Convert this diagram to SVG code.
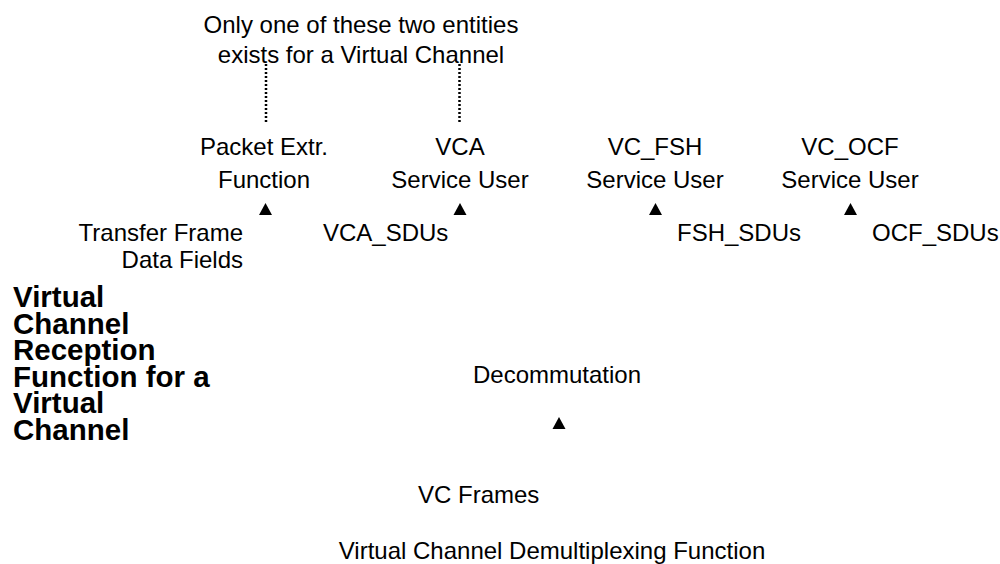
<svg xmlns="http://www.w3.org/2000/svg" width="1000" height="564" viewBox="0 0 1000 564">
<style>
text{font-family:"Liberation Sans",Arial,sans-serif;font-size:24px;fill:#000}
.c{text-anchor:middle}
.r{text-anchor:end}
.b{font-weight:bold;font-size:29.5px}
.dot{stroke:#000;stroke-width:2.5;stroke-dasharray:2 2;fill:none}
.tri{fill:#000}
</style>
<rect width="1000" height="564" fill="#fff"/>
<g id="note">
<text class="c" x="361" y="33">Only one of these two entities</text>
<text class="c" x="361" y="63">exists for a Virtual Channel</text>
</g>
<g id="packet-extr">
<text class="c" x="264" y="155">Packet Extr.</text>
<text class="c" x="264" y="188">Function</text>
</g>
<g id="vca-user">
<text class="c" x="460" y="155">VCA</text>
<text class="c" x="460" y="188">Service User</text>
</g>
<g id="vcfsh-user">
<text class="c" x="655" y="155">VC_FSH</text>
<text class="c" x="655" y="188">Service User</text>
</g>
<g id="vcocf-user">
<text class="c" x="850" y="155">VC_OCF</text>
<text class="c" x="850" y="188">Service User</text>
</g>
<g id="vc-reception">
<text class="b" x="13" y="307">Virtual</text>
<text class="b" x="13" y="333.5">Channel</text>
<text class="b" x="13" y="360">Reception</text>
<text class="b" x="13" y="386.5">Function for a</text>
<text class="b" x="13" y="413">Virtual</text>
<text class="b" x="13" y="439.5">Channel</text>
</g>
<g id="decommutation">
<text class="c" x="557" y="383">Decommutation</text>
</g>
<g id="vc-demux">
<text class="c" x="552" y="559">Virtual Channel Demultiplexing Function</text>
</g>
<g id="connectors">
<line class="dot" x1="266" y1="64" x2="266" y2="123"/>
<line class="dot" x1="459.5" y1="64" x2="459.5" y2="123"/>
<polygon class="tri" points="259,215 272,215 265.5,203"/>
<polygon class="tri" points="453.5,215 466.5,215 460,203"/>
<polygon class="tri" points="649,215 662,215 655.5,203"/>
<polygon class="tri" points="844,215 857,215 850.5,203"/>
<polygon class="tri" points="552.5,429 565.5,429 559,417"/>
<text class="r" x="243" y="240.5">Transfer Frame</text>
<text class="r" x="243" y="268">Data Fields</text>
<text x="323" y="240.5">VCA_SDUs</text>
<text x="677" y="240.5">FSH_SDUs</text>
<text x="872" y="240.5">OCF_SDUs</text>
<text x="418" y="503">VC Frames</text>
</g>
</svg>
